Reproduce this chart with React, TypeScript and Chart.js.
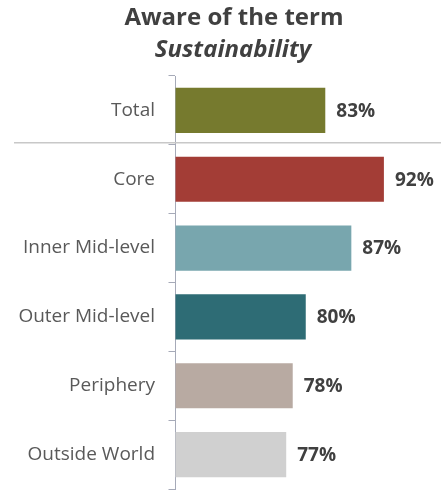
import React, { useEffect, useRef } from 'react';
import { Chart, registerables } from 'chart.js';

Chart.register(...registerables);

const TITLE = 'Aware of the term';
const SUBTITLE = 'Sustainability';
const categories = ['Total', 'Core', 'Inner Mid-level', 'Outer Mid-level', 'Periphery', 'Outside World'];
const values = [83, 92, 87, 80, 78, 77];
const barColors = ['#767A2E', '#A33D36', '#78A6AE', '#2E6C75', '#B8AAA2', '#D0D0D0'];
const xMin = 60;
const xMax = 100;

const FONT = '"Open Sans", Lato, sans-serif';
const PAD_R = 5;
const PAD_TOP = 76;
const AXIS_X = 175.5;

const overlay = {
  id: 'overlay',
  afterDraw(chart: any) {
    const ctx = chart.ctx;
    ctx.save();
    ctx.fillStyle = '#404040';
    ctx.textAlign = 'center';
    ctx.textBaseline = 'middle';
    ctx.font = `bold 24px ${FONT}`;
    ctx.fillText(TITLE, 234, 18.4);
    ctx.font = `italic bold 24px ${FONT}`;
    ctx.fillText(SUBTITLE, 233, 50.5);
    ctx.restore();
  },
  afterDatasetsDraw(chart: any) {
    const ctx = chart.ctx;
    const y = chart.scales.y;
    const sepY = (y.getPixelForValue(0) + y.getPixelForValue(1)) / 2 - 2;
    ctx.save();
    ctx.strokeStyle = '#C8C8C8';
    ctx.lineWidth = 1.5;
    ctx.beginPath();
    ctx.moveTo(14, sepY);
    ctx.lineTo(chart.width, sepY);
    ctx.stroke();
    const meta = chart.getDatasetMeta(0);
    ctx.font = `bold 19px ${FONT}`;
    ctx.fillStyle = '#404040';
    ctx.textAlign = 'left';
    ctx.textBaseline = 'middle';
    meta.data.forEach((bar: any, i: number) => {
      ctx.fillText(values[i] + '%', bar.x + 11, bar.y + 1);
    });
    ctx.restore();
  },
};

export default function App() {
  const ref = useRef<HTMLCanvasElement>(null);
  useEffect(() => {
    document.body.style.margin = '0';
    const chart = new Chart(ref.current as HTMLCanvasElement, {
      type: 'bar',
      data: {
        labels: categories,
        datasets: [
          {
            data: values,
            backgroundColor: barColors,
            borderWidth: 0,
            categoryPercentage: 1,
            barPercentage: 0.655,
          },
        ],
      },
      options: {
        indexAxis: 'y',
        responsive: false,
        animation: false,
        layout: { padding: { left: 0, right: PAD_R, top: PAD_TOP, bottom: 2 } },
        plugins: {
          legend: { display: false },
          tooltip: { enabled: false },
          title: { display: false },
        },
        scales: {
          x: { display: false, min: xMin, max: xMax },
          y: {
            type: 'category',
            offset: true,
            grid: {
              display: true,
              drawOnChartArea: false,
              drawTicks: true,
              tickLength: 7,
              offset: true,
              color: '#A6AAB8',
            },
            border: { display: true, color: '#A6AAB8', width: 1 },
            ticks: { color: '#595959', font: { family: FONT, size: 19 }, padding: 13.5 },
            afterFit(scale: any) {
              scale.width = AXIS_X;
              scale.paddingTop = 0;
              scale.paddingBottom = 0;
            },
          },
        },
      },
      plugins: [overlay],
    } as any);
    return () => chart.destroy();
  }, []);
  return <canvas ref={ref} width={441} height={491} style={{ display: 'block' }} />;
}
